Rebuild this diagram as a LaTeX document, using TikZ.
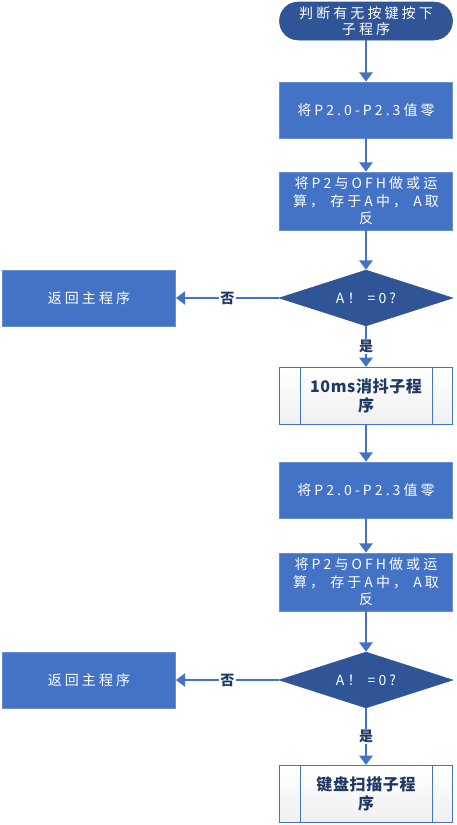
\documentclass[tikz,border=0pt]{standalone}
\usepackage{fontspec}
\setmainfont{Noto Sans CJK SC}
\usetikzlibrary{shapes.geometric,arrows.meta}
\definecolor{boxblue}{HTML}{4472C4}
\definecolor{darkblue}{HTML}{2F5597}
\definecolor{navy}{HTML}{1F3864}
\definecolor{edgeblue}{HTML}{4472C4}
\newcommand{\wtxt}{\fontsize{10.5pt}{13pt}\selectfont\addfontfeature{LetterSpace=22}}
\tikzset{
  proc/.style={draw=boxblue!80!white, line width=0.6pt, fill=boxblue, text=white, minimum width=129.75pt, minimum height=42pt, align=center, inner sep=0pt, font=\wtxt},
  term/.style={draw=darkblue, fill=darkblue, text=white, rounded corners=14pt, minimum width=129.75pt, minimum height=28.5pt, align=center, inner sep=0pt, font=\fontsize{10.5pt}{11.5pt}\selectfont\addfontfeature{LetterSpace=22}},
  decision/.style={diamond, draw=darkblue, fill=darkblue, text=white, minimum width=130.5pt, minimum height=42pt, inner sep=0pt, aspect=3.1, font=\wtxt},
  predef/.style={draw=boxblue, line width=0.6pt, top color=white, bottom color=gray!12, text=navy, minimum width=129.75pt, minimum height=43pt, align=center, inner sep=0pt, font=\fontsize{12pt}{14pt}\selectfont\bfseries\addfontfeature{LetterSpace=4}},
  flow/.style={draw=edgeblue, line width=1.5pt, -{Triangle[width=10pt,length=7pt]}},
  lab/.style={fill=white, text=navy, inner sep=1pt, font=\fontsize{10.5pt}{11pt}\selectfont\bfseries}
}
\begin{document}
\begin{tikzpicture}[x=0.75pt,y=-0.75pt]
\useasboundingbox (0,0) rectangle (457,825);
\node[term] (t) at (366,21) {判断有无按键按下\\子程序};
\node[proc] (b1) at (366,110) {将P2.0-P2.3值零};
\node[proc, minimum height=43.5pt] (b2) at (366,201) {将P2与OFH做或运\\算，\ 存于A中，\ A取\\反};
\node[decision] (d1) at (366,298) {A！\ =0?};
\node[proc] (l1) at (89,298) {返回主程序};
\node[predef] (p1) at (366,396) {10ms消抖子程\\序};
\draw[boxblue, line width=0.6pt] ([xshift=15.75pt]p1.north west) -- ([xshift=15.75pt]p1.south west)
  ([xshift=-15.75pt]p1.north east) -- ([xshift=-15.75pt]p1.south east);
\node[proc] (b3) at (366,490) {将P2.0-P2.3值零};
\node[proc, minimum height=43.5pt] (b4) at (366,582) {将P2与OFH做或运\\算，\ 存于A中，\ A取\\反};
\node[decision] (d2) at (366,680) {A！\ =0?};
\node[proc] (l2) at (89,680) {返回主程序};
\node[predef] (p2) at (366,794) {键盘扫描子程\\序};
\draw[boxblue, line width=0.6pt] ([xshift=15.75pt]p2.north west) -- ([xshift=15.75pt]p2.south west)
  ([xshift=-15.75pt]p2.north east) -- ([xshift=-15.75pt]p2.south east);
\draw[flow] (t) -- (b1);
\draw[flow] (b1) -- (b2);
\draw[flow] (b2) -- (d1);
\draw[flow] (d1) -- node[lab] {是} (p1);
\draw[flow] (d1) -- node[lab] {否} (l1);
\draw[flow] (p1) -- (b3);
\draw[flow] (b3) -- (b4);
\draw[flow] (b4) -- (d2);
\draw[flow] (d2) -- node[lab] {是} (p2);
\draw[flow] (d2) -- node[lab] {否} (l2);
\end{tikzpicture}
\end{document}
